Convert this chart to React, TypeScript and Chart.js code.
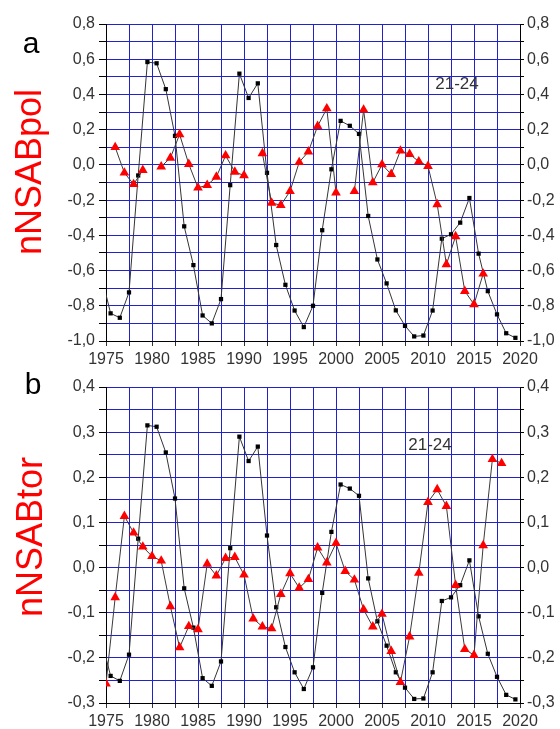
import React, { useEffect, useRef } from 'react';
import { Chart, registerables } from 'chart.js';

Chart.register(...registerables);

// ---------- data ----------
const halfYears = [
  1974.5, 1975.5, 1976.5, 1977.5, 1978.5, 1979.5, 1980.5, 1981.5, 1982.5, 1983.5,
  1984.5, 1985.5, 1986.5, 1987.5, 1988.5, 1989.5, 1990.5, 1991.5, 1992.5, 1993.5,
  1994.5, 1995.5, 1996.5, 1997.5, 1998.5, 1999.5, 2000.5, 2001.5, 2002.5, 2003.5,
  2004.5, 2005.5, 2006.5, 2007.5, 2008.5, 2009.5, 2010.5, 2011.5, 2012.5, 2013.5,
  2014.5, 2015.5, 2016.5, 2017.5, 2018.5, 2019.5,
];

const polSmooth = [
  -0.63, -0.843, -0.868, -0.724, -0.06, 0.584, 0.577, 0.43, 0.165, -0.349,
  -0.569, -0.855, -0.9, -0.762, -0.115, 0.518, 0.38, 0.463, -0.045, -0.455,
  -0.681, -0.827, -0.921, -0.8, -0.371, -0.025, 0.25, 0.222, 0.176, -0.29,
  -0.537, -0.673, -0.826, -0.914, -0.974, -0.969, -0.827, -0.419, -0.394, -0.328,
  -0.188, -0.504, -0.717, -0.849, -0.956, -0.982,
];

const torSmooth = [
  -0.16, -0.24, -0.251, -0.193, 0.064, 0.315, 0.312, 0.255, 0.153, -0.046,
  -0.133, -0.245, -0.262, -0.208, 0.043, 0.29, 0.236, 0.268, 0.071, -0.088,
  -0.176, -0.232, -0.269, -0.221, -0.056, 0.079, 0.184, 0.175, 0.159, -0.024,
  -0.119, -0.173, -0.232, -0.266, -0.291, -0.29, -0.232, -0.074, -0.066, -0.039,
  0.016, -0.108, -0.191, -0.242, -0.282, -0.292,
];

const polYears = [
  1976, 1977, 1978, 1979, 1980, 1981, 1982, 1983, 1984, 1985,
  1986, 1987, 1988, 1989, 1990, 1991, 1992, 1993, 1994, 1995,
  1996, 1997, 1998, 1999, 2000, 2001, 2002, 2003, 2004, 2005,
  2006, 2007, 2008, 2009, 2010, 2011, 2012, 2013, 2014, 2015, 2016,
];
const polRaw = [
  0.1, -0.045, -0.11, -0.03, null, -0.01, 0.04, 0.173, 0.004, -0.13,
  -0.115, -0.068, 0.053, -0.04, -0.06, null, 0.065, -0.216, -0.229, -0.15,
  0.015, 0.075, 0.22, 0.32, -0.158, null, -0.15, 0.313, -0.1, 0.002,
  -0.053, 0.08, 0.061, 0.019, -0.007, -0.224, -0.565, -0.406, -0.717, -0.792, -0.618,
];

const torYears = [
  1975, 1976, 1977, 1978, 1979, 1980, 1981, 1982, 1983, 1984,
  1985, 1986, 1987, 1988, 1989, 1990, 1991, 1992, 1993, 1994,
  1995, 1996, 1997, 1998, 1999, 2000, 2001, 2002, 2003, 2004,
  2005, 2006, 2007, 2008, 2009, 2010, 2011, 2012, 2013, 2014,
  2015, 2016, 2017, 2018,
];
const torRaw = [
  -0.257, -0.066, 0.114, 0.077, 0.046, 0.025, 0.015, -0.086, -0.177, -0.13,
  -0.137, 0.008, -0.018, 0.021, 0.023, -0.016, -0.113, -0.131, -0.135, -0.059,
  -0.013, -0.045, -0.026, 0.044, 0.011, 0.054, -0.008, -0.027, -0.093, -0.131,
  -0.103, -0.185, -0.254, -0.153, -0.012, 0.145, 0.173, 0.136, -0.039, -0.181,
  -0.194, 0.049, 0.24, 0.231,
];

const xTicks = [
  1975, 1977.5, 1980, 1982.5, 1985, 1987.5, 1990, 1992.5, 1995, 1997.5,
  2000, 2002.5, 2005, 2007.5, 2010, 2012.5, 2015, 2017.5, 2020,
];
const yTicksA = [-1.0, -0.9, -0.8, -0.7, -0.6, -0.5, -0.4, -0.3, -0.2, -0.1, 0.0, 0.1, 0.2, 0.3, 0.4, 0.5, 0.6, 0.7, 0.8];
const yLabelsA = [-1.0, -0.8, -0.6, -0.4, -0.2, 0.0, 0.2, 0.4, 0.6, 0.8];
const yTicksB = [-0.3, -0.25, -0.2, -0.15, -0.1, -0.05, 0.0, 0.05, 0.1, 0.15, 0.2, 0.25, 0.3, 0.35, 0.4];
const yLabelsB = [-0.3, -0.2, -0.1, 0.0, 0.1, 0.2, 0.3, 0.4];

// ---------- styling ----------
const GRID = '#2222c8';
const FONT = "'Liberation Sans', Arial, sans-serif";
const TEXT = '#333333';

function fmt(v: number) {
  const n = Math.abs(v) < 1e-9 ? 0 : v;
  return n.toFixed(1).replace('.', ',');
}

function hasLabel(list: number[], v: number) {
  return list.some((l) => Math.abs(l - v) < 1e-6);
}

function buildConfig(
  sx: number[], sy: number[], tx: number[], ty: (number | null)[],
  yMin: number, yMax: number, yTicks: number[], yLabels: number[],
  padTop: number, xH: number,
): any {
  const yScale = (pos: 'left' | 'right') => ({
    type: 'linear',
    position: pos,
    min: yMin,
    max: yMax,
    afterBuildTicks: (s: any) => { s.ticks = yTicks.map((v) => ({ value: v })); },
    afterFit: (s: any) => { s.width = pos === 'left' ? 106 : 40; },
    ticks: {
      autoSkip: false,
      callback: (v: number) => (hasLabel(yLabels, v) ? fmt(v) : ''),
      font: { size: 16, family: FONT },
      color: TEXT,
      padding: pos === 'left' ? 4 : 3,
    },
    grid: {
      color: GRID,
      lineWidth: 1,
      drawOnChartArea: pos === 'left',
      tickColor: '#000',
      tickLength: pos === 'left' ? 7 : 4,
    },
    border: { color: '#000', width: 1 },
  });

  return {
    type: 'line',
    data: {
      datasets: [
        {
          data: tx.map((x, i) => ({ x, y: ty[i] })),
          borderColor: '#3a3a3a',
          borderWidth: 1,
          pointStyle: 'triangle',
          pointRadius: 5.6,
          pointBackgroundColor: '#ff0000',
          pointBorderColor: '#ff0000',
          pointBorderWidth: 0,
          spanGaps: false,
          tension: 0,
        },
        {
          data: sx.map((x, i) => ({ x, y: sy[i] })),
          borderColor: '#333333',
          borderWidth: 1,
          pointStyle: 'rect',
          pointRadius: 3,
          pointBackgroundColor: '#000',
          pointBorderColor: '#000',
          pointBorderWidth: 0,
          tension: 0,
        },
      ],
    },
    options: {
      animation: false,
      responsive: false,
      maintainAspectRatio: false,
      events: [],
      layout: { padding: { top: padTop, left: 0, right: 0, bottom: 0 } },
      plugins: { legend: { display: false }, tooltip: { enabled: false }, title: { display: false } },
      scales: {
        x: {
          type: 'linear',
          min: 1975,
          max: 2020,
          afterBuildTicks: (s: any) => { s.ticks = xTicks.map((v) => ({ value: v })); },
          afterFit: (s: any) => { s.height = xH; },
          ticks: {
            autoSkip: false,
            maxRotation: 0,
            callback: (v: number) => (Math.abs(v % 5) < 1e-6 ? String(v) : ''),
            font: { size: 16, family: FONT },
            color: TEXT,
            padding: 4,
          },
          grid: { color: GRID, lineWidth: 1, tickColor: '#333', tickLength: 5 },
          border: { color: '#000', width: 1 },
        },
        y: yScale('left'),
        y2: yScale('right'),
      },
    },
  };
}

function Panel(props: { top: number; height: number; cfg: () => any }) {
  const ref = useRef<HTMLCanvasElement | null>(null);
  useEffect(() => {
    if (!ref.current) return;
    const chart = new Chart(ref.current, props.cfg());
    return () => chart.destroy();
  }, []);
  return (
    <canvas
      ref={ref}
      width={560}
      height={props.height}
      style={{ position: 'absolute', left: 0, top: props.top, width: 560, height: props.height }}
    />
  );
}

const absText = (left: number, top: number, size: number, color: string, rotate = false): React.CSSProperties => ({
  position: 'absolute',
  left,
  top,
  transform: `translate(-50%, -50%)${rotate ? ' rotate(-90deg)' : ''}`,
  fontFamily: FONT,
  fontSize: size,
  color,
  whiteSpace: 'nowrap',
  lineHeight: 1,
});

export default function App() {
  return (
    <div style={{ position: 'fixed', left: 0, top: 0, width: 560, height: 729, background: '#fff', overflow: 'hidden' }}>
      <Panel
        top={0}
        height={365}
        cfg={() => buildConfig(halfYears, polSmooth, polYears, polRaw, -1.0, 0.8, yTicksA, yLabelsA, 24, 24)}
      />
      <Panel
        top={365}
        height={364}
        cfg={() => buildConfig(halfYears, torSmooth, torYears, torRaw, -0.3, 0.4, yTicksB, yLabelsB, 22, 26)}
      />
      <div style={absText(31, 43, 30, '#000')}>a</div>
      <div style={absText(33, 384, 30, '#000')}>b</div>
      <div style={absText(29, 172, 36, '#ff0000', true)}>nNSABpol</div>
      <div style={absText(30, 537, 36, '#ff0000', true)}>nNSABtor</div>
      <div style={absText(457, 83, 17, TEXT)}>21-24</div>
      <div style={absText(430, 444, 17, TEXT)}>21-24</div>
    </div>
  );
}
